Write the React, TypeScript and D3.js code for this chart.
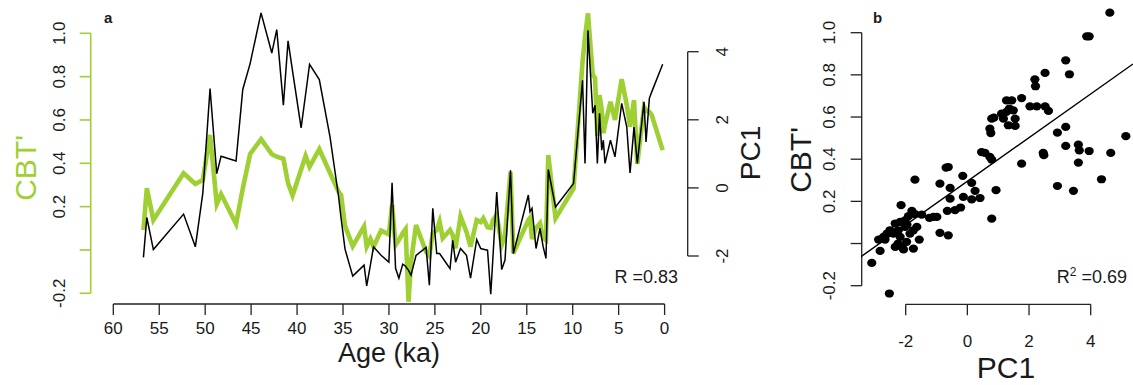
import React from "react";
import * as d3 from "d3";

// ---------- Panel a: time series ----------
const ages = [56.72,56.35,55.64,52.35,51.07,50.26,49.47,48.74,48.27,46.64,45.91,45.11,43.92,42.75,42.21,41.49,40.98,40.49,39.56,39.07,38.64,37.58,36.41,35.48,35.21,34.78,33.94,32.71,32.42,32.02,31.68,30.86,30.01,29.66,29.28,28.92,28.50,28.19,27.87,27.60,27.05,25.96,25.60,25.23,24.80,24.49,24.15,23.35,23.06,22.75,22.21,21.56,21.12,20.45,20.01,19.73,19.27,18.92,18.67,18.27,17.73,17.37,16.77,16.46,14.83,14.65,14.43,13.99,13.56,13.23,12.91,12.66,11.87,9.91,8.93,8.66,8.34,7.82,7.57,7.32,7.08,6.84,6.67,6.49,5.89,5.40,4.67,4.12,3.76,3.33,2.97,2.24,2.02,1.66,1.40,0.21];
const cbtSeries = [0.092,0.285,0.138,0.354,0.305,0.323,0.531,0.212,0.258,0.12,0.283,0.443,0.511,0.442,0.431,0.421,0.308,0.251,0.371,0.434,0.384,0.465,0.355,0.268,0.254,0.111,0.018,0.108,0.016,0.051,0.015,0.089,0.072,0.208,0.023,0.046,0.078,0.096,-0.239,-0.055,0.115,-0.009,-0.028,0.078,0.092,0.131,0.054,0.092,0.069,0.008,0.155,0.083,0.015,0.138,0.129,0.146,0.105,0.102,0.138,0.162,0.023,0.065,0.361,-0.015,0.138,0.148,0.051,0.102,0.123,0.055,0.046,0.438,0.146,0.284,0.869,0.983,1.092,0.808,0.794,0.526,0.715,0.646,0.539,0.577,0.684,0.600,0.788,0.669,0.569,0.692,0.397,0.661,0.646,0.637,0.623,0.461];
const pc1Series = [-2.04,-0.87,-1.81,-0.77,-1.73,-0.16,2.92,0.42,0.93,0.79,2.89,3.65,5.14,3.96,4.65,2.43,4.32,3.43,1.76,2.75,3.63,3.18,1.49,-0.26,-0.89,-1.80,-2.59,-2.27,-2.88,-2.27,-1.73,-1.98,-2.18,0.15,-2.36,-2.65,-2.24,-2.30,-2.42,-2.56,-1.98,-1.75,-2.86,-0.60,-1.93,-1.93,-2.06,-2.37,-1.54,-2.18,-1.78,-1.98,-2.65,-1.52,-1.78,-1.80,-1.83,-3.12,-1.98,-0.12,-2.40,-2.12,0.52,-1.93,-0.21,-0.70,-0.60,-1.78,-1.19,-1.71,-2.07,0.54,-0.56,0.13,3.16,0.72,4.63,2.19,2.43,0.72,2.19,1.11,1.40,0.72,1.40,0.91,2.48,1.79,0.44,1.79,0.72,2.53,1.35,2.63,2.82,3.63];

const ageTicks = [60,55,50,45,40,35,30,25,20,15,10,5,0];
const cbtTicks = [-0.2,0,0.2,0.4,0.6,0.8,1.0];
const cbtTickLabels = ["-0.2","","0.2","0.4","0.6","0.8","1.0"];
const pc1Ticks = [-2,0,2,4];
const corrLabel = "R =0.83";

// ---------- Panel b: scatter ----------
const scatterPC1 = [4.62,3.87,3.95,3.19,3.31,2.52,2.19,2.21,1.76,1.27,1.44,1.36,1.11,1.27,1.17,1.33,1.55,1.55,1.49,2.03,2.25,2.52,2.63,0.79,0.86,0.73,0.76,0.46,0.57,0.73,0.79,1.76,2.92,3.19,3.19,3.60,3.63,3.95,3.60,5.14,4.65,2.46,2.48,2.92,3.44,4.35,-0.69,-0.62,-0.15,-0.89,-0.56,0.14,0.25,-0.56,-0.13,0.14,0.41,0.93,-1.70,-0.22,-0.40,-0.65,0.79,-1.10,-0.99,-1.23,-0.89,-0.62,-2.15,-1.48,-1.80,-1.91,-2.02,-2.18,-2.34,-2.51,-2.61,-1.64,-1.56,-1.75,-2.07,-2.34,-1.97,-2.18,-2.88,-2.67,-2.83,-3.10,-2.53,-1.86,-1.75,-2.24,-2.40,-2.72,-2.02,-2.13,-1.70,-1.96,-2.25];
const scatterCBT = [1.095,0.983,0.983,0.869,0.803,0.809,0.779,0.746,0.69,0.679,0.679,0.640,0.616,0.624,0.592,0.561,0.558,0.592,0.632,0.651,0.651,0.651,0.629,0.592,0.597,0.545,0.524,0.434,0.43,0.411,0.398,0.379,0.526,0.553,0.463,0.469,0.442,0.439,0.384,0.509,0.43,0.43,0.419,0.273,0.25,0.305,0.360,0.363,0.321,0.284,0.264,0.288,0.25,0.213,0.221,0.209,0.216,0.253,0.303,0.171,0.158,0.155,0.118,0.126,0.126,0.122,0.051,0.039,0.182,0.137,0.155,0.13,0.11,0.103,0.095,0.063,0.047,0.079,0.019,-0.024,-0.028,-0.016,0.008,0.032,0.019,0.019,-0.035,-0.092,-0.237,0.047,0.063,0.063,0.047,0.032,0.079,-0.016,0.14,0.09,0.0];
const bXTicks = [-2,0,2,4];
const regSlope = 0.1036;
const regIntercept = 0.295;
const r2Value = "0.69";

const GREEN = "#9ecf33";
const FONT = "'Liberation Sans', Arial, Helvetica, sans-serif";
const TXT = "#1a1a1a";

export default function App() {
  // panel a scales
  const xAge = d3.scaleLinear().domain([60, 0]).range([113.3, 664.6]);
  const yCbt = d3.scaleLinear().domain([-0.2, 1.0]).range([293.3, 33.3]);
  const yPc = d3.scaleLinear().domain([-2, 4]).range([256, 51.7]);
  const axisLeftX = 90.7;
  const axisRightX = 687.7;
  const axisBottomY = 304;

  const greenLine = d3.line<number>().x((_, i) => xAge(ages[i])).y((d) => yCbt(d));
  const blackLine = d3.line<number>().x((_, i) => xAge(ages[i])).y((d) => yPc(d));

  // panel b scales
  const xB = d3.scaleLinear().domain([-2, 4]).range([905.7, 1090.7]);
  const yB = d3.scaleLinear().domain([-0.2, 1.0]).range([285.7, 32.7]);
  const bLeftX = 861.7;
  const bBottomY = 304.3;
  const regX0 = xB.invert(861);
  const regX1 = xB.invert(1133);

  const tick = 11;

  return (
    <svg width={1133} height={385} style={{ position: "absolute", left: 0, top: 0, background: "#fff" }} fontFamily={FONT}>
      <defs>
        <clipPath id="clipB">
          <rect x={861} y={0} width={272} height={300} />
        </clipPath>
      </defs>
      {/* ----- Panel a ----- */}
      <text x={104} y={23} fontSize={15} fontWeight="bold" fill={TXT}>a</text>
      {/* left axis (CBT') */}
      <line x1={axisLeftX} x2={axisLeftX} y1={yCbt(-0.2)} y2={yCbt(1.0)} stroke={GREEN} strokeWidth={1.6} />
      {cbtTicks.map((t, i) => (
        <g key={"lt" + i}>
          <line x1={axisLeftX - tick} x2={axisLeftX} y1={yCbt(t)} y2={yCbt(t)} stroke={GREEN} strokeWidth={1.6} />
          <text transform={`translate(${59},${yCbt(t)}) rotate(-90)`} textAnchor="middle" dominantBaseline="central" fontSize={17} fill={TXT}>{cbtTickLabels[i]}</text>
        </g>
      ))}
      <text transform={`translate(${25},${168}) rotate(-90)`} textAnchor="middle" dominantBaseline="central" fontSize={30} fill={GREEN}>CBT'</text>

      {/* right axis (PC1) */}
      <line x1={axisRightX} x2={axisRightX} y1={yPc(-2)} y2={yPc(4)} stroke="#222" strokeWidth={1.3} />
      {pc1Ticks.map((t) => (
        <g key={"rt" + t}>
          <line x1={axisRightX} x2={axisRightX + tick} y1={yPc(t)} y2={yPc(t)} stroke="#222" strokeWidth={1.3} />
          <text transform={`translate(${722},${yPc(t)}) rotate(-90)`} textAnchor="middle" dominantBaseline="central" fontSize={17} fill={TXT}>{t}</text>
        </g>
      ))}
      <text transform={`translate(${750},${153}) rotate(-90)`} textAnchor="middle" dominantBaseline="central" fontSize={28} fill={TXT}>PC1</text>

      {/* bottom axis */}
      <line x1={xAge(60)} x2={xAge(0)} y1={axisBottomY} y2={axisBottomY} stroke="#222" strokeWidth={1.3} />
      {ageTicks.map((t) => (
        <g key={"bt" + t}>
          <line x1={xAge(t)} x2={xAge(t)} y1={axisBottomY} y2={axisBottomY + tick} stroke="#222" strokeWidth={1.3} />
          <text x={xAge(t)} y={334} textAnchor="middle" fontSize={17} fill={TXT}>{t}</text>
        </g>
      ))}
      <text x={389} y={362} textAnchor="middle" fontSize={27} fill={TXT}>Age (ka)</text>

      {/* series */}
      <path d={greenLine(cbtSeries) || ""} fill="none" stroke={GREEN} strokeWidth={4.6} strokeLinejoin="miter" strokeMiterlimit={4} />
      <path d={blackLine(pc1Series) || ""} fill="none" stroke="#000" strokeWidth={1.5} strokeLinejoin="miter" />

      <text x={678} y={283} textAnchor="end" fontSize={18} fill={TXT}>{corrLabel}</text>

      {/* ----- Panel b ----- */}
      <text x={873} y={23} fontSize={15} fontWeight="bold" fill={TXT}>b</text>
      <line x1={bLeftX} x2={bLeftX} y1={yB(-0.2)} y2={yB(1.0)} stroke="#222" strokeWidth={1.3} />
      {cbtTicks.map((t, i) => (
        <g key={"blt" + i}>
          <line x1={bLeftX - tick} x2={bLeftX} y1={yB(t)} y2={yB(t)} stroke="#222" strokeWidth={1.3} />
          <text transform={`translate(${829},${yB(t)}) rotate(-90)`} textAnchor="middle" dominantBaseline="central" fontSize={17} fill={TXT}>{cbtTickLabels[i]}</text>
        </g>
      ))}
      <text transform={`translate(${800},${160}) rotate(-90)`} textAnchor="middle" dominantBaseline="central" fontSize={30} fill={TXT}>CBT'</text>

      <line x1={xB(-2)} x2={xB(4)} y1={bBottomY} y2={bBottomY} stroke="#222" strokeWidth={1.3} />
      {bXTicks.map((t) => (
        <g key={"bbt" + t}>
          <line x1={xB(t)} x2={xB(t)} y1={bBottomY} y2={bBottomY + tick} stroke="#222" strokeWidth={1.3} />
          <text x={xB(t)} y={347} textAnchor="middle" fontSize={17} fill={TXT}>{t}</text>
        </g>
      ))}
      <text x={1006} y={378} textAnchor="middle" fontSize={30} fill={TXT}>PC1</text>

      {scatterPC1.map((p, i) => (
        <ellipse key={"pt" + i} cx={xB(p)} cy={yB(scatterCBT[i])} rx={4.6} ry={4.1} fill="#000" />
      ))}
      <line
        clipPath="url(#clipB)"
        x1={xB(regX0)} y1={yB(regSlope * regX0 + regIntercept)}
        x2={xB(regX1)} y2={yB(regSlope * regX1 + regIntercept)}
        stroke="#000" strokeWidth={1.4}
      />
      <text x={1127} y={283} textAnchor="end" fontSize={18} fill={TXT}>
        R<tspan dy={-7} fontSize={12}>2</tspan><tspan dy={7}> =</tspan>{r2Value}
      </text>
    </svg>
  );
}
